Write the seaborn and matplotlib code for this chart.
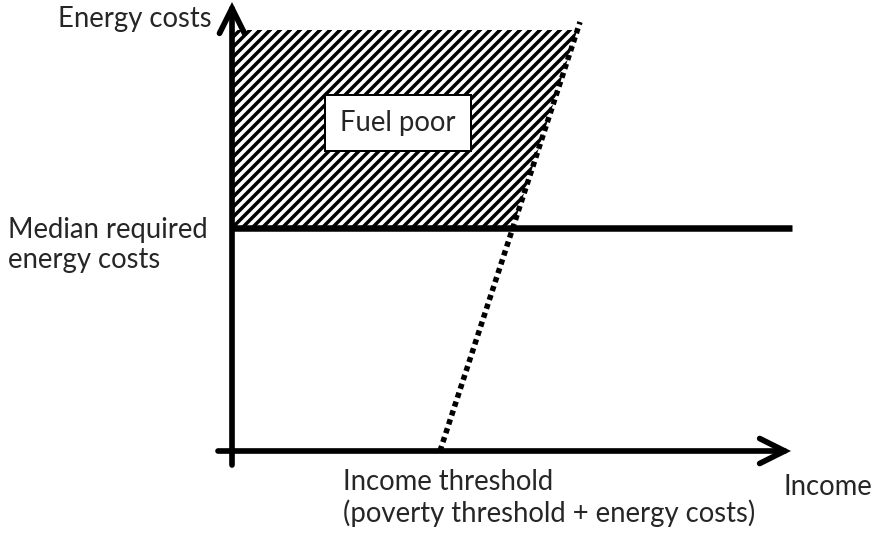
import numpy as np
import seaborn as sns
import matplotlib.pyplot as plt

# Diagram values, origin where the two axes cross (units roughly pixels)
income_axis = [-14, 559]          # income axis start / arrow tip
cost_axis = [-14, 449]            # energy cost axis start / arrow tip
median_cost = 223                 # median required energy costs
median_line_x = [0, 560]
cost_ceiling = 421                # top of the fuel poor region
threshold_x = [208, 348]          # income threshold line (income, cost)
threshold_y = [0, 429]

labels = {
    "cost_axis": "Energy costs",
    "income_axis": "Income",
    "median": "Median required\nenergy costs",
    "threshold": "Income threshold\n(poverty threshold + energy costs)",
    "region": "Fuel poor",
}

sns.set_theme(style="white")
plt.rcParams["font.family"] = ["Lato", "DejaVu Sans"]
plt.rcParams["hatch.linewidth"] = 2.1
plt.rcParams["hatch.color"] = "black"

DPI = 120
fig = plt.figure(figsize=(876 / DPI, 535 / DPI), dpi=DPI)
ax = fig.add_axes([0, 0, 1, 1])
ax.set_xlim(-232, 644)
ax.set_ylim(-84, 451)
ax.axis("off")

# fuel poor region: between the median line, the ceiling and the threshold line
def threshold_income(cost):
    return np.interp(cost, threshold_y, threshold_x)

region_x = [0, 0, threshold_income(cost_ceiling), threshold_income(median_cost)]
region_y = [median_cost, cost_ceiling, cost_ceiling, median_cost]
ax.fill(region_x, region_y, facecolor="white", edgecolor="black", linewidth=0,
        hatch="////", zorder=1)

# median line
sns.lineplot(x=median_line_x, y=[median_cost] * 2, ax=ax, color="black",
             linewidth=3.9, solid_capstyle="butt", zorder=3)

# income threshold (dotted)
sns.lineplot(x=threshold_x, y=threshold_y, ax=ax, color="black", linewidth=3.3,
             dashes=False, zorder=4)
ax.lines[-1].set_dashes([0.95, 0.75])
ax.lines[-1].set_dash_capstyle("butt")

# axes with open arrow heads
arrow = dict(arrowstyle="->,head_length=15,head_width=7.5", color="black",
             lw=3.4, shrinkA=0, shrinkB=0, mutation_scale=1, capstyle="round",
             joinstyle="miter")
ax.annotate("", xy=(income_axis[1], 0), xytext=(income_axis[0], 0),
            arrowprops=arrow, zorder=5)
ax.annotate("", xy=(0, cost_axis[1]), xytext=(0, cost_axis[0]),
            arrowprops=arrow, zorder=5)

fs = 16.5
ax.text(-20, 432, labels["cost_axis"], ha="right", va="center", fontsize=fs)
ax.text(551, -36, labels["income_axis"], ha="left", va="center", fontsize=fs)
ax.text(-224, 206, labels["median"], ha="left", va="center", fontsize=fs,
        linespacing=1.2)
ax.text(111, -47, labels["threshold"], ha="left", va="center", fontsize=fs,
        linespacing=1.2)
ax.text(166, 328, labels["region"], ha="center", va="center", fontsize=fs,
        zorder=6,
        bbox=dict(boxstyle="square,pad=0.55", facecolor="white",
                  edgecolor="black", linewidth=1.2))

fig.savefig("out.png", dpi=DPI)
